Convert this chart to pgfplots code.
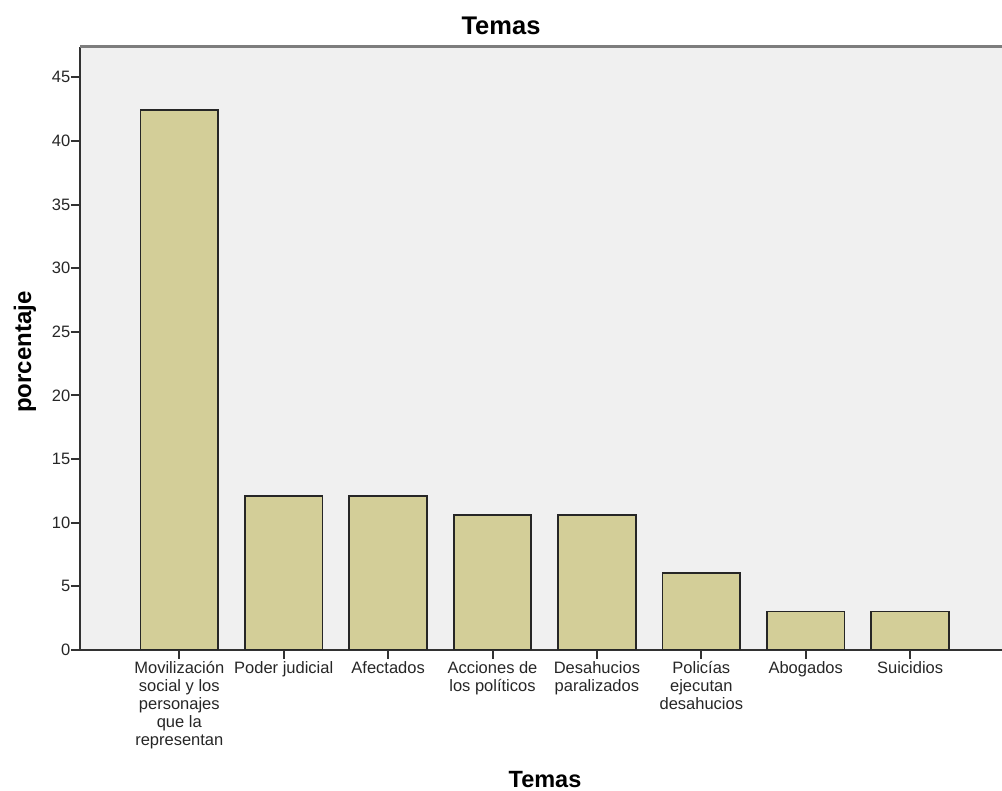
\documentclass[border=0pt]{standalone}
\usepackage{fontspec}
\setmainfont{Liberation Sans}
\usepackage{pgfplots}
\pgfplotsset{compat=1.18}
\definecolor{barfill}{RGB}{211,206,152}
\definecolor{bgc}{RGB}{240,240,240}
\definecolor{axc}{RGB}{50,50,50}
\definecolor{topc}{RGB}{125,125,125}
\begin{document}
\begin{tikzpicture}[x=1pt,y=1pt]
\path[use as bounding box] (0,0) rectangle (1002,791);
\begin{axis}[
  at={(80pt,141pt)}, anchor=south west,
  scale only axis, width=922pt, height=603.3pt,
  xmin=-0.951, xmax=7.88, ymin=0, ymax=47.4,
  axis x line*=bottom, axis y line*=left,
  axis line style={-, draw=axc, line width=2.2pt},
  axis background/.style={fill=bgc},
  ytick={0,5,...,45},
  xtick={0,...,7},
  xticklabels={{Movilización\\social y los\\personajes\\que la\\representan},{Poder judicial},{Afectados},{Acciones de\\los políticos},{Desahucios\\paralizados},{Policías\\ejecutan\\desahucios},{Abogados},{Suicidios}},
  xticklabel style={align=center, font=\fontsize{16.5}{18}\selectfont, text=black!85, inner sep=2pt},
  yticklabel style={font=\fontsize{16.5}{18}\selectfont, text=black!85, inner sep=0.5pt},
  /pgf/number format/assume math mode=true,
  tick style={draw=axc, line width=2pt},
  major tick length=9pt,
  tick align=outside,
  after end axis/.code={\draw[topc, line width=3pt] (rel axis cs:0,1) -- (rel axis cs:1,1);},
]
\addplot[ybar, bar width=77.5pt, fill=barfill, draw=black!85, line width=1.8pt]
  coordinates {(0,42.42) (1,12.12) (2,12.12) (3,10.61) (4,10.61) (5,6.06) (6,3.03) (7,3.03)};
\end{axis}
\node[anchor=base, font=\fontsize{25.5}{28}\selectfont\bfseries] at (501,756) {Temas};
\node[anchor=base, font=\fontsize{23.5}{26}\selectfont\bfseries] at (545,3) {Temas};
\node[rotate=90, font=\fontsize{24}{26}\selectfont\bfseries] at (25,439) {porcentaje};
\end{tikzpicture}
\end{document}
